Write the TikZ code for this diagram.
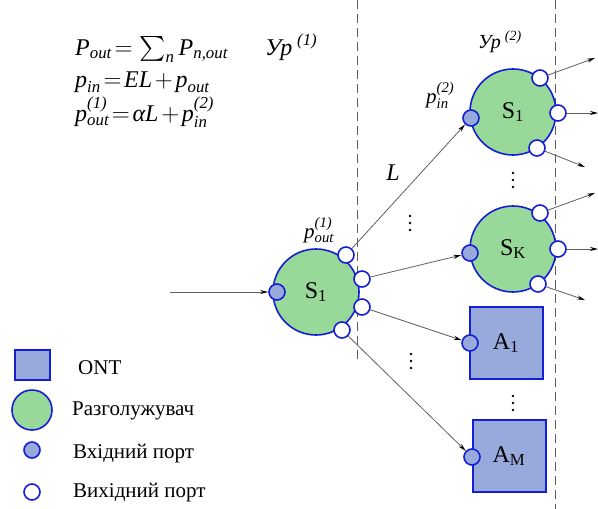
\documentclass[tikz,border=0pt]{standalone}
\usepackage{amsmath}
\usepackage{fontspec}
\setmainfont{Liberation Serif}
\usetikzlibrary{arrows.meta}
\definecolor{splgreen}{RGB}{152,216,152}
\definecolor{splblue}{RGB}{20,30,210}
\definecolor{ontblue}{RGB}{152,170,220}
\definecolor{fibgray}{RGB}{95,95,95}
\newcommand{\mi}[1]{\textit{#1}}
\tikzset{
  splitter/.style={circle,draw=splblue,fill=splgreen,line width=1.6pt,minimum size=86pt,inner sep=0pt,font=\fontsize{24}{28}\selectfont},
  ont/.style={draw=splblue,fill=ontblue,line width=2pt,minimum width=73pt,minimum height=72pt,inner sep=0pt,font=\fontsize{24}{28}\selectfont},
  inport/.style={circle,draw=splblue,fill=ontblue,line width=1.6pt,minimum size=16pt,inner sep=0pt},
  outport/.style={circle,draw=splblue,fill=white,line width=1.6pt,minimum size=16pt,inner sep=0pt},
  fiber/.style={draw=fibgray,line width=0.8pt,-{Stealth[length=8pt,width=4pt,black]}},
  border/.style={draw=fibgray,line width=0.8pt,dash pattern=on 9pt off 5pt},
  formula/.style={anchor=base west,inner sep=0pt,font=\fontsize{24}{28}\selectfont},
  legtext/.style={anchor=west,inner sep=0pt,font=\fontsize{21}{25}\selectfont}
}
\begin{document}
\begin{tikzpicture}[x=1pt,y=-1pt]
\useasboundingbox (0,0) rectangle (598,509);

% level borders
\draw[border] (357,0) -- (357,360);
\draw[border] (555,0) -- (555,509);

% formulas and levels
\node[formula] (f1) at (75,55) {$\mi{P}_{\mi{out}}\mkern2mu{=}\mkern2mu\textstyle\sum_{\mi{n}}\mi{P}_{\mi{n,out}}$};
\node[formula] (f2) at (75,87) {$\mi{p}_{\mi{in}}\mkern2mu{=}\mkern2mu\mi{EL}\mkern2mu{+}\mkern2mu\mi{p}_{\mi{out}}$};
\node[formula] (f3) at (75,121) {$\mi{p}^{\mi{(1)}}_{\mi{out}}\mkern2mu{=}\mkern2mu\mi{αL}\mkern2mu{+}\mkern2mu\mi{p}^{\mi{(2)}}_{\mi{in}}$};
\node[formula] (lvl1) at (265,55) {$\mi{Ур}^{\;\mi{(1)}}$};
\node[formula,font=\fontsize{20}{24}\selectfont] (lvl2) at (478,48) {$\mi{Ур}^{\;\mi{(2)}}$};

% root splitter
\node[splitter] (s0) at (316,292) {S\textsubscript{1}};
\node[inport] (s0in) at (277,292) {};
\node[outport] (s0o1) at (346,255) {};
\node[outport] (s0o2) at (362,279) {};
\node[outport] (s0o3) at (362,307) {};
\node[outport] (s0o4) at (342,330) {};
\node[formula,font=\fontsize{21}{24}\selectfont] (pout) at (304,238) {$\mi{p}^{\mi{(1)}}_{\mi{out}}$};

% second level splitters
\node[splitter] (s1) at (513,112) {S\textsubscript{1}};
\node[inport] (s1in) at (471,118) {};
\node[outport] (s1o1) at (540,78) {};
\node[outport] (s1o2) at (558,113) {};
\node[outport] (s1o3) at (537,148) {};
\node[formula,font=\fontsize{21}{24}\selectfont] (pin) at (426,103) {$\mi{p}^{\mi{(2)}}_{\mi{in}}$};

\node[splitter] (sk) at (513,249) {S\textsubscript{K}};
\node[inport] (skin) at (470,253) {};
\node[outport] (sko1) at (540,213) {};
\node[outport] (sko2) at (558,249) {};
\node[outport] (sko3) at (538,284) {};

% ONTs
\node[ont] (a1) at (506,343) {A\textsubscript{1}};
\node[inport] (a1in) at (470,343) {};
\node[ont] (am) at (509,456) {A\textsubscript{M}};
\node[inport] (amin) at (472,457) {};

% free ends
\coordinate (src) at (170,292);
\coordinate (s1e1) at (595,58);
\coordinate (s1e2) at (598,113);
\coordinate (s1e3) at (585,167);
\coordinate (ske1) at (595,193);
\coordinate (ske2) at (598,249);
\coordinate (ske3) at (585,300);

\draw[fiber] (src) -- (s0in);
\draw[fiber] (s0o1) -- (s1in);
\draw[fiber] (s0o2) -- (skin);
\draw[fiber] (s0o3) -- (a1in);
\draw[fiber] (s0o4) -- (amin);
\foreach \i in {1,2,3} {
  \draw[fiber] (s1o\i) -- (s1e\i);
  \draw[fiber] (sko\i) -- (ske\i);
}

\node[formula,anchor=center] (len) at (393,173) {\mi{L}};

% dots between branches
\foreach \x/\y in {513/180, 513/403, 410/223, 411/361}
  \foreach \d in {-7,0,7}
    \fill (\x,\y+\d) circle (1.4pt);

% legend
\node[ont,minimum width=35pt,minimum height=30pt] (legont) at (32,365) {};
\node[splitter,minimum size=40pt] (legspl) at (32,410) {};
\node[inport] (legin) at (32,450) {};
\node[outport] (legout) at (32,492) {};
\node[legtext] (legontt) at (78,368) {ONT};
\node[legtext] (legsplt) at (72,411) {Разголужувач};
\node[legtext] (legint) at (73,454) {Вхідний порт};
\node[legtext] (legoutt) at (73,493) {Вихідний порт};
\end{tikzpicture}
\end{document}
